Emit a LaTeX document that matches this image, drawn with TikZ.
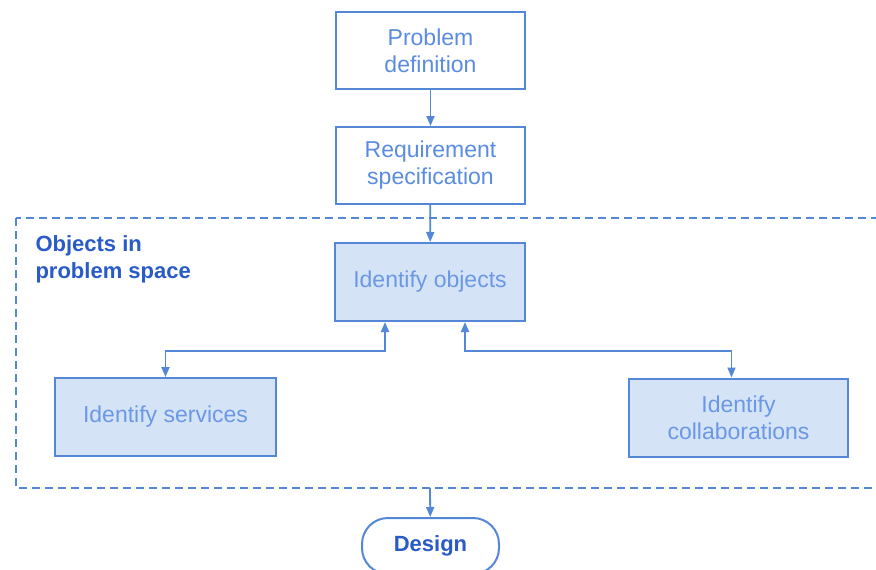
\documentclass[tikz,border=0pt]{standalone}
\usepackage{fontspec}
\setmainfont{Liberation Sans}
\usetikzlibrary{arrows.meta}
\definecolor{lineblue}{RGB}{85,135,215}
\definecolor{txtblue}{RGB}{90,140,225}
\definecolor{fillblue}{RGB}{213,227,247}
\definecolor{darkblue}{RGB}{40,90,200}
\tikzset{
  plainbox/.style={draw=lineblue, line width=2pt, fill=white, text=txtblue,
    minimum width=189pt, minimum height=77pt, align=center, font=\fontsize{23}{27}\selectfont},
  fillbox/.style={draw=lineblue, line width=2pt, fill=fillblue, text=txtblue!90!white,
    minimum height=78pt, align=center, font=\fontsize{23}{27}\selectfont},
  conn/.style={draw=lineblue, line width=1.8pt, -{Triangle[length=10pt,width=8pt]}},
  twoway/.style={draw=lineblue, line width=1.8pt, {Triangle[length=10pt,width=8pt]}-{Triangle[length=10pt,width=8pt]}},
  groupbox/.style={draw=lineblue, line width=2.5pt, dash pattern=on 8pt off 5pt},
  endbox/.style={draw=lineblue, line width=2pt, fill=white, rounded corners=26pt,
    minimum width=137pt, minimum height=56pt, text=darkblue, font=\fontsize{22}{26}\selectfont\bfseries}
}
\begin{document}
\begin{tikzpicture}[x=1pt,y=-1pt]
\useasboundingbox (0,0) rectangle (876,570);
\clip (0,0) rectangle (876,570);
\fill[white] (0,0) rectangle (876,570);
% group
\draw[groupbox] (16,218) rectangle (886,488);
\node[anchor=north west, align=left, text=darkblue, font=\fontsize{22}{27}\selectfont\bfseries] (lbl) at (32,232) {Objects in\\problem space};
% nodes
\node[plainbox] (pd) at (430.5,50.5) {Problem\\definition};
\node[plainbox] (rs) at (430.5,165.5) {Requirement\\specification};
\node[fillbox, minimum width=190pt] (io) at (430,282) {Identify objects};
\node[fillbox, minimum width=221pt] (is) at (165.5,417) {Identify services};
\node[fillbox, minimum width=219pt] (ic) at (738.5,417.5) {Identify\\collaborations};
\node[endbox] (ds) at (430.5,546) {Design};
\coordinate (gb) at (430,488);
% connectors
\draw[conn] (pd) -- (rs);
\draw[conn] (rs) -- (io);
\draw[twoway] ([xshift=-45pt]io.south) -- ++(0,29) -| (is.north);
\draw[twoway] ([xshift=35pt]io.south) -- ++(0,29) -| ([xshift=-7pt]ic.north);
\draw[conn] (gb) -- (ds);
\end{tikzpicture}
\end{document}
